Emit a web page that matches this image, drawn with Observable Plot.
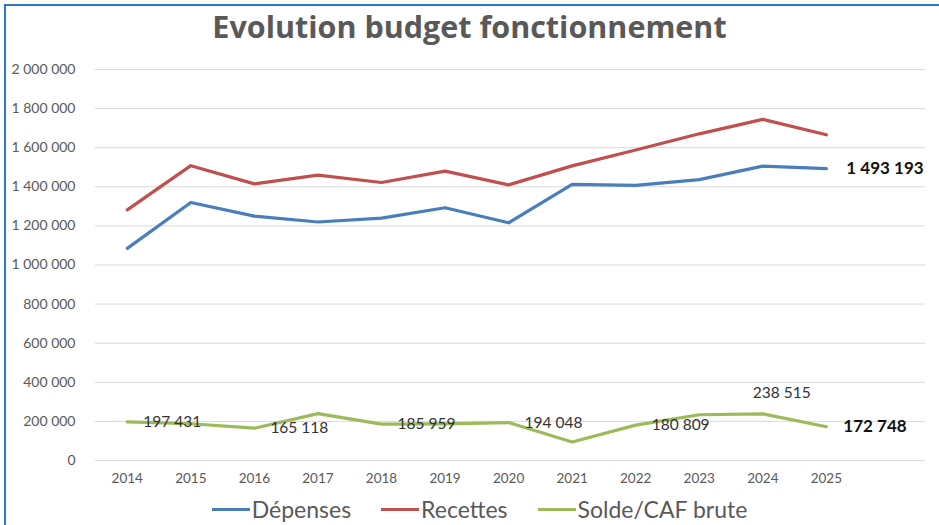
<!DOCTYPE html>
<html>
<head>
<meta charset="utf-8">
<script src="https://cdn.jsdelivr.net/npm/d3@7"></script>
<script src="https://cdn.jsdelivr.net/npm/@observablehq/plot@0.6"></script>
<style>
  html, body { margin: 0; padding: 0; background: #fff; }
  #frame { position: relative; width: 939px; height: 525px; overflow: hidden; background: #fff; }
  #border { position: absolute; left: 4px; top: 4px; right: -10px; bottom: -10px;
            border-left: 2px solid #2b78c5; border-top: 2px solid #2b78c5; pointer-events: none; }
  #title { position: absolute; left: 0; top: 5px; width: 939px; height: 44px; text-align: center;
           font-family: "Open Sans", sans-serif; font-weight: 700; font-size: 30.5px; color: #595959;
           line-height: 42px; }
  #chart { position: absolute; left: 0; top: 50px; }
  #legend { position: absolute; left: 0; top: 494px; width: 939px; height: 30px;
            display: flex; justify-content: center; align-items: center; gap: 30px;
            font-family: Lato, sans-serif; font-size: 23px; color: #595959; padding-left: 20px; box-sizing: border-box; }
  .item { display: flex; align-items: center; gap: 2px; }
  .sw { width: 38px; height: 3px; display: inline-block; }
</style>
</head>
<body>
<div id="frame">
  <div id="title">Evolution budget fonctionnement</div>
  <div id="chart"></div>
  <div id="legend"></div>
  <div id="border"></div>
</div>
<script>
// ---- data ----
const years = [2014, 2015, 2016, 2017, 2018, 2019, 2020, 2021, 2022, 2023, 2024, 2025];
const depenses = [1085000, 1320000, 1250000, 1220000, 1240000, 1293000, 1216000, 1412000, 1407000, 1437000, 1506000, 1493193];
const recettes = [1282000, 1508000, 1415000, 1460000, 1422000, 1480000, 1410000, 1507000, 1588000, 1671000, 1745000, 1665941];
const solde = [197431, 188000, 165118, 240000, 185959, 187000, 194048, 95000, 180809, 234000, 238515, 172748];
const seriesNames = ["Dépenses", "Recettes", "Solde/CAF brute"];
const seriesColors = ["#4a7ebb", "#c0504d", "#9bbb59"];
const labeledYears = [2014, 2016, 2018, 2020, 2022, 2024, 2025];
const yTicks = [0, 200000, 400000, 600000, 800000, 1000000, 1200000, 1400000, 1600000, 1800000, 2000000];

// ---- build table ----
const seriesValues = [depenses, recettes, solde];
const rows = [];
seriesNames.forEach((name, si) => {
  years.forEach((yr, i) => rows.push({ series: name, year: yr, value: seriesValues[si][i] }));
});
const soldeRows = rows.filter(d => d.series === "Solde/CAF brute" && labeledYears.includes(d.year));
const lastDep = rows.filter(d => d.series === "Dépenses" && d.year === 2025);

const fmt = v => d3.format(",")(v).replace(/,/g, " ");
const font = "Lato, sans-serif";

const chart = Plot.plot({
  width: 939,
  height: 445,
  marginLeft: 95,
  marginRight: 14,
  marginTop: 19,
  marginBottom: 35,
  style: { fontFamily: font, background: "transparent", overflow: "visible" },
  x: { type: "linear", domain: [2013.5, 2026.56], axis: null },
  y: { domain: [0, 2000000], axis: null },
  color: { domain: seriesNames, range: seriesColors },
  marks: [
    Plot.ruleY(yTicks, { stroke: "#d9d9d9", strokeWidth: 1 }),
    Plot.axisY(yTicks, { tickSize: 0, tickPadding: 20, tickFormat: fmt, fontSize: 14, fill: "#595959", label: null }),
    Plot.axisX(years, { tickSize: 0, tickPadding: 13, tickFormat: d => String(d), fontSize: 13.5, fill: "#595959", label: null }),
    Plot.line(rows, { x: "year", y: "value", z: "series", stroke: "series", strokeWidth: 3.2, strokeLinejoin: "round" }),
    Plot.text(soldeRows.filter(d => d.year !== 2024 && d.year !== 2025), {
      x: "year", y: "value", text: d => fmt(d.value), textAnchor: "start", dx: 16,
      fontSize: 15.5, fill: "#333"
    }),
    Plot.text(soldeRows.filter(d => d.year === 2024), {
      x: "year", y: "value", text: d => fmt(d.value), textAnchor: "middle", dx: 19, dy: -21,
      fontSize: 15.5, fill: "#333"
    }),
    Plot.text(soldeRows.filter(d => d.year === 2025), {
      x: "year", y: "value", text: d => fmt(d.value), textAnchor: "start", dx: 17,
      fontSize: 17, fontWeight: "bold", fill: "#111"
    }),
    Plot.text(lastDep, {
      x: "year", y: "value", text: d => fmt(d.value), textAnchor: "start", dx: 20,
      fontSize: 17, fontWeight: "bold", fill: "#111"
    })
  ]
});
document.getElementById("chart").appendChild(chart);

const legend = document.getElementById("legend");
seriesNames.forEach((name, i) => {
  const item = document.createElement("div");
  item.className = "item";
  const sw = document.createElement("span");
  sw.className = "sw";
  sw.style.background = seriesColors[i];
  const t = document.createElement("span");
  t.textContent = name;
  item.appendChild(sw);
  item.appendChild(t);
  legend.appendChild(item);
});
</script>
</body>
</html>
